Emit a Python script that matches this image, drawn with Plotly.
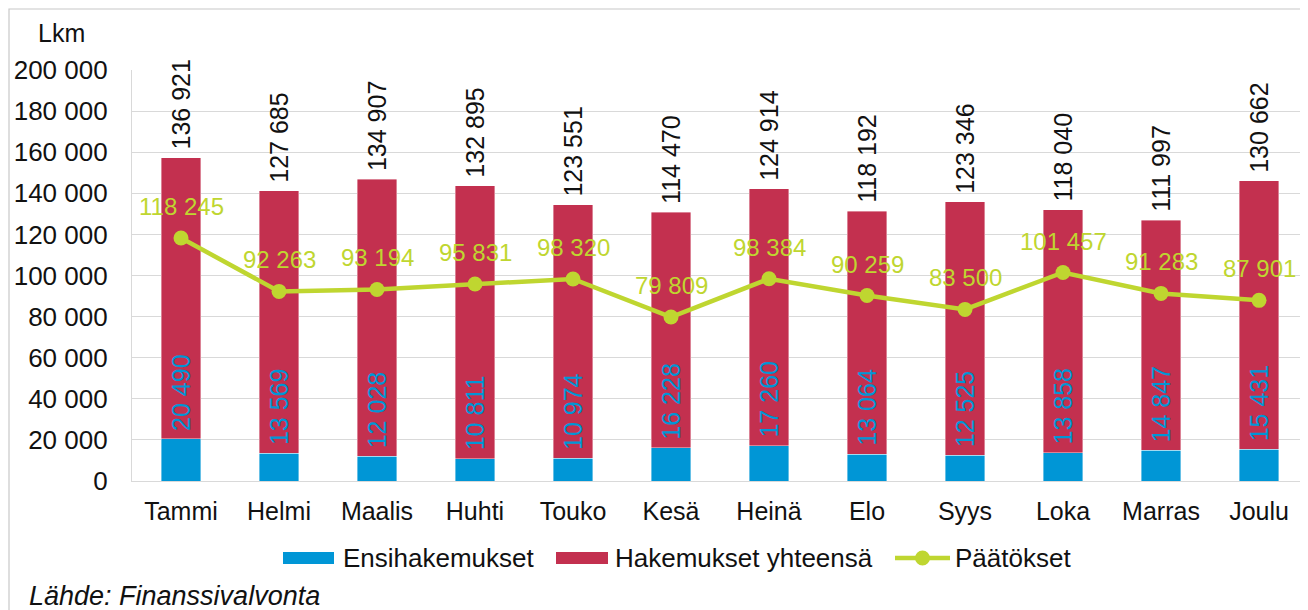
import plotly.graph_objects as go

months = ["Tammi", "Helmi", "Maalis", "Huhti", "Touko", "Kesä", "Heinä", "Elo", "Syys", "Loka", "Marras", "Joulu"]
ensihakemukset = [20490, 13569, 12028, 10811, 10974, 16228, 17260, 13064, 12525, 13858, 14847, 15431]
hakemukset_yhteensa = [136921, 127685, 134907, 132895, 123551, 114470, 124914, 118192, 123346, 118040, 111997, 130662]
paatokset = [118245, 92263, 93194, 95831, 98320, 79809, 98384, 90259, 83500, 101457, 91283, 87901]
y_ticks = list(range(0, 200001, 20000))
series_names = ["Ensihakemukset", "Hakemukset yhteensä", "Päätökset"]

BLUE = "#0096d6"
RED = "#c3304f"
GREEN = "#bfd630"
TXT = "#111111"
FONT = "Liberation Sans, Arial, sans-serif"


def fmt(v):
    return f"{v:,}".replace(",", " ")


# page has an 8px body margin; figure geometry expressed so the plot lands where the reference has it
OFF = 8
W, H = 1300, 602
ML, MR, MT, MB = 124, 0, 62, 129
PW, PH = W - ML - MR, H - MT - MB


def px(page_x):
    return (page_x - OFF - ML) / PW


def py(page_y):
    return (H - MB - (page_y - OFF)) / PH


fig = go.Figure()
fig.add_trace(go.Bar(
    x=months, y=ensihakemukset, name=series_names[0], showlegend=False,
    marker=dict(color=BLUE, line=dict(color="rgba(255,255,255,0.5)", width=0.8)),
))
fig.add_trace(go.Bar(
    x=months, y=hakemukset_yhteensa, name=series_names[1], showlegend=False,
    marker=dict(color=RED, line=dict(color="rgba(255,255,255,0.5)", width=0.8)),
))
fig.add_trace(go.Scatter(
    x=months, y=paatokset, name=series_names[2], mode="lines+markers", showlegend=False,
    line=dict(color=GREEN, width=4.5), marker=dict(color=GREEN, size=15),
))

annotations = []
for m, b, r, p in zip(months, ensihakemukset, hakemukset_yhteensa, paatokset):
    annotations.append(dict(x=m, y=b + r, text=fmt(r), showarrow=False, textangle=-90,
                            yanchor="bottom", yshift=6, font=dict(size=25, color=TXT, family=FONT)))
    annotations.append(dict(x=m, y=b, text=fmt(b), showarrow=False, textangle=-90,
                            yanchor="bottom", yshift=6, font=dict(size=25, color=BLUE, family=FONT)))
    annotations.append(dict(x=m, y=p, text=fmt(p), showarrow=False,
                            yanchor="bottom", yshift=16, font=dict(size=24, color=GREEN, family=FONT)))

annotations.append(dict(xref="paper", yref="paper", x=px(36), y=py(33),
                        xanchor="left", yanchor="middle", text="Lkm", showarrow=False,
                        font=dict(size=25, color=TXT, family=FONT)))
annotations.append(dict(xref="paper", yref="paper", x=px(27), y=py(596),
                        xanchor="left", yanchor="middle", text="<i>Lähde: Finanssivalvonta</i>",
                        showarrow=False, font=dict(size=27, color=TXT, family=FONT)))

# legend (drawn manually to get the wide swatches)
LEG_Y = 558
legend_items = [
    (series_names[0], 283, 334, 341, "bar", BLUE),
    (series_names[1], 556, 608, 613, "bar", RED),
    (series_names[2], 895, 950, 953, "line", GREEN),
]
shapes = [dict(type="rect", xref="paper", yref="paper",
               x0=px(9), x1=px(1320), y0=py(640), y1=py(9),
               line=dict(color="#c8c8c8", width=1.2), layer="below")]
for name, sx0, sx1, tx, kind, col in legend_items:
    if kind == "bar":
        shapes.append(dict(type="rect", xref="paper", yref="paper",
                           x0=px(sx0), x1=px(sx1), y0=py(LEG_Y + 6), y1=py(LEG_Y - 6),
                           fillcolor=col, line=dict(width=0)))
    else:
        shapes.append(dict(type="line", xref="paper", yref="paper",
                           x0=px(sx0), x1=px(sx1), y0=py(LEG_Y), y1=py(LEG_Y),
                           line=dict(color=col, width=4.5)))
        cx = (sx0 + sx1) / 2
        shapes.append(dict(type="circle", xref="paper", yref="paper",
                           x0=px(cx - 7.5), x1=px(cx + 7.5), y0=py(LEG_Y + 7.5), y1=py(LEG_Y - 7.5),
                           fillcolor=col, line=dict(width=0)))
    annotations.append(dict(xref="paper", yref="paper", x=px(tx), y=py(LEG_Y),
                            xanchor="left", yanchor="middle", text=name, showarrow=False,
                            font=dict(size=26, color=TXT, family=FONT)))

fig.update_layout(
    width=W, height=H,
    margin=dict(l=ML, r=MR, t=MT, b=MB, autoexpand=False),
    barmode="stack", bargap=0.6,
    plot_bgcolor="white", paper_bgcolor="white",
    separators=", ",
    font=dict(family=FONT, size=26, color=TXT),
    annotations=annotations,
    shapes=shapes,
    showlegend=False,
)
fig.update_yaxes(range=[0, 200000], tickvals=y_ticks, tickformat=",d",
                 showgrid=True, gridcolor="#d9d9d9", gridwidth=1.2,
                 showline=True, linecolor="#d9d9d9", linewidth=1.2,
                 zeroline=False, ticklabelstandoff=18,
                 tickfont=dict(size=26, family=FONT, color=TXT))
fig.update_xaxes(range=[-0.5, len(months) - 0.5],
                 showline=True, linecolor="#d9d9d9", linewidth=1.2, showgrid=False,
                 ticklabelstandoff=8, tickfont=dict(size=25, family=FONT, color=TXT))

fig.write_html("out.html")
